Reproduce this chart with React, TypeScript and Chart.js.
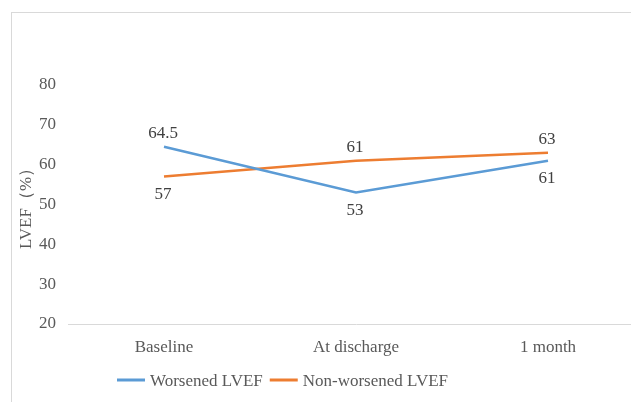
import React, { useEffect, useRef } from "react";
import { Chart, registerables } from "chart.js";

Chart.register(...registerables);

const categories = ["Baseline", "At discharge", "1 month"];
const worsenedLabel = "Worsened LVEF";
const nonWorsenedLabel = "Non-worsened LVEF";
const worsenedValues = [64.5, 53, 61];
const nonWorsenedValues = [57, 61, 63];
const yTicks = [20, 30, 40, 50, 60, 70, 80];
const yTitle = "LVEF（%）";

const BLUE = "#5B9BD5";
const ORANGE = "#ED7D31";
const FONT = "'Liberation Serif', 'Times New Roman', serif";

// label placement per dataset point: -1 above, +1 below
const labelSides = [
  [-1, 1, 1],
  [1, -1, -1],
];

const dataLabelPlugin = {
  id: "dataLabels",
  afterDatasetsDraw(chart: any) {
    const ctx = chart.ctx;
    ctx.save();
    ctx.font = `17px ${FONT}`;
    ctx.fillStyle = "#404040";
    ctx.textAlign = "center";
    ctx.textBaseline = "middle";
    chart.data.datasets.forEach((ds: any, di: number) => {
      const meta = chart.getDatasetMeta(di);
      meta.data.forEach((pt: any, i: number) => {
        const side = labelSides[di][i];
        const dy = side < 0 ? -13 : 18;
        ctx.fillText(String(ds.data[i]), pt.x - 1, pt.y + dy);
      });
    });
    ctx.restore();
  },
};

const legendPlugin = {
  id: "customLegend",
  afterDraw(chart: any) {
    const ctx = chart.ctx;
    ctx.save();
    ctx.font = `17px ${FONT}`;
    ctx.textBaseline = "middle";
    ctx.textAlign = "left";
    let x = 117;
    const y = 380;
    chart.data.datasets.forEach((ds: any) => {
      ctx.strokeStyle = ds.borderColor;
      ctx.lineWidth = 3;
      ctx.beginPath();
      ctx.moveTo(x, y);
      ctx.lineTo(x + 28, y);
      ctx.stroke();
      x += 33;
      ctx.fillStyle = "#595959";
      ctx.fillText(ds.label, x, y + 1.5);
      x += ctx.measureText(ds.label).width + 7;
    });
    ctx.restore();
  },
};

export default function App() {
  const ref = useRef<HTMLCanvasElement>(null);
  useEffect(() => {
    document.body.style.margin = "0";
    document.body.style.overflow = "hidden";
    const chart = new Chart(ref.current!, {
      type: "line",
      data: {
        labels: categories,
        datasets: [
          {
            label: worsenedLabel,
            data: worsenedValues,
            borderColor: BLUE,
            backgroundColor: BLUE,
            borderWidth: 2.5,
            pointRadius: 0,
            tension: 0,
          },
          {
            label: nonWorsenedLabel,
            data: nonWorsenedValues,
            borderColor: ORANGE,
            backgroundColor: ORANGE,
            borderWidth: 2.5,
            pointRadius: 0,
            tension: 0,
          },
        ],
      },
      options: {
        animation: false,
        responsive: false,
        devicePixelRatio: 1,
        layout: { padding: { top: 85, right: 6, bottom: 38, left: 0 } },
        plugins: {
          legend: { display: false },
          tooltip: { enabled: false },
        },
        scales: {
          x: {
            offset: true,
            grid: { display: false, drawTicks: false },
            border: { display: true, color: "#d9d9d9", width: 1 },
            ticks: {
              padding: 13,
              color: "#595959",
              font: { family: FONT, size: 17 },
              maxRotation: 0,
            },
            afterFit: (s: any) => {
              s.height = 40;
            },
          },
          y: {
            min: 20,
            max: 80,
            afterBuildTicks: (s: any) => {
              s.ticks = yTicks.map((v) => ({ value: v }));
            },
            grid: { display: false, drawTicks: false },
            border: { display: false },
            ticks: {
              padding: 12,
              color: "#595959",
              font: { family: FONT, size: 17 },
            },
            title: {
              display: true,
              text: yTitle,
              color: "#595959",
              font: { family: FONT, size: 17 },
              padding: { top: 16, bottom: 0 },
            },
            afterFit: (s: any) => {
              s.width = 68;
            },
          },
        },
      },
      plugins: [dataLabelPlugin, legendPlugin],
    });
    return () => chart.destroy();
  }, []);

  return (
    <div
      style={{
        position: "fixed",
        left: 0,
        top: 0,
        width: 631,
        height: 402,
        overflow: "hidden",
        background: "#fff",
      }}
    >
      <div
        style={{
          position: "absolute",
          left: 11,
          top: 12,
          width: 660,
          height: 400,
          border: "1px solid #d9d9d9",
          background: "#fff",
        }}
      />
      <canvas
        ref={ref}
        width={650}
        height={402}
        style={{ position: "absolute", left: 0, top: 0, width: 650, height: 402 }}
      />
    </div>
  );
}
